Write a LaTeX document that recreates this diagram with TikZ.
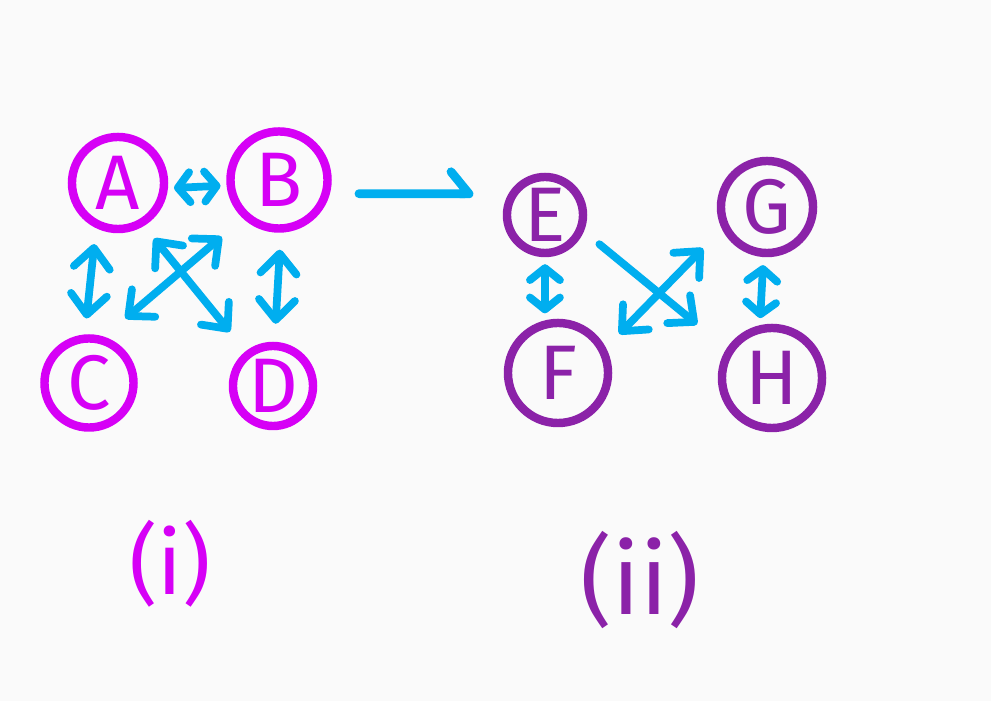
\documentclass[tikz,border=0pt]{standalone}
\usepackage{fontspec}
\setmainfont{Fira Sans}
\usetikzlibrary{arrows.meta}
\definecolor{bgcol}{HTML}{FAFAFA}
\definecolor{mag}{HTML}{D600F6}
\definecolor{plum}{HTML}{8B22A8}
\definecolor{sky}{HTML}{00AEEF}
\tikzset{
  vtx/.style={circle, draw, line width=2.4pt, minimum size=#1, inner sep=0pt,
    font=\fontsize{22}{24}\selectfont},
  link/.style={sky, line width=2.2pt, line cap=round,
    >={Straight Barb[round,length=2mm,width=3.6mm]}},
  smalllink/.style={link, >={Straight Barb[round,length=1.2mm,width=3mm]}},
  roman/.style={font=\fontsize{#1}{#1}\selectfont},
}
\begin{document}
\begin{tikzpicture}[x=0.01cm, y=-0.01cm]
    % 背景
    \fill[bgcol] (0,0) rectangle (991,701);
    \useasboundingbox (0,0) rectangle (991,701);

    % 图 (i)
    \node[vtx=0.92cm, mag] (A) at (118,183) {A};
    \node[vtx=0.97cm, mag] (B) at (279,180) {B};
    \node[vtx=0.89cm, mag] (C) at (89,383) {C};
    \node[vtx=0.80cm, mag] (D) at (273,386) {D};

    \draw[smalllink, <->, shorten <=0.06cm, shorten >=0.06cm] (A.-6) -- (B.186);
    \draw[link, <->, shorten <=0.16cm, shorten >=0.16cm] (A.244) -- (C.95);
    \draw[link, <->, shorten <=0.17cm, shorten >=0.18cm] (B.272) -- (D.88);
    \draw[link, <->, shorten <=0.28cm, shorten >=0.28cm] (C.72) -- (B.227);
    \draw[link, <->, shorten <=0.16cm, shorten >=0.25cm] (A.-59) -- (D.128);

    \node[mag, roman=25] (capi) at (170,564) {(i)};

    % 图 (ii)
    \node[vtx=0.76cm, plum] (E) at (545,215) {E};
    \node[vtx=0.92cm, plum] (G) at (767,207) {G};
    \node[vtx=1.00cm, plum] (F) at (558,373) {F};
    \node[vtx=1.00cm, plum] (H) at (772,378) {H};

    \draw[smalllink, <->, shorten <=0.07cm, shorten >=0.07cm] (E.south) -- (F.104);
    \draw[smalllink, <->, shorten <=0.08cm, shorten >=0.07cm] (G.266) -- (H.103);
    \draw[link, ->, shorten <=0.20cm, shorten >=0.38cm] (E.-23) -- (H.147);
    \draw[link, <->, shorten <=0.19cm, shorten >=0.27cm] (F.28) -- (G.206);

    \node[plum, roman=28] (capii) at (640,580) {(ii)};

    % 过渡箭头
    \draw[link, line width=2.5pt, -{Straight Barb[harpoon,round,length=1.8mm,width=4.4mm]},
      shorten <=0.29cm, shorten >=0.35cm] (B.-15) -- (E.150);
\end{tikzpicture}
\end{document}
